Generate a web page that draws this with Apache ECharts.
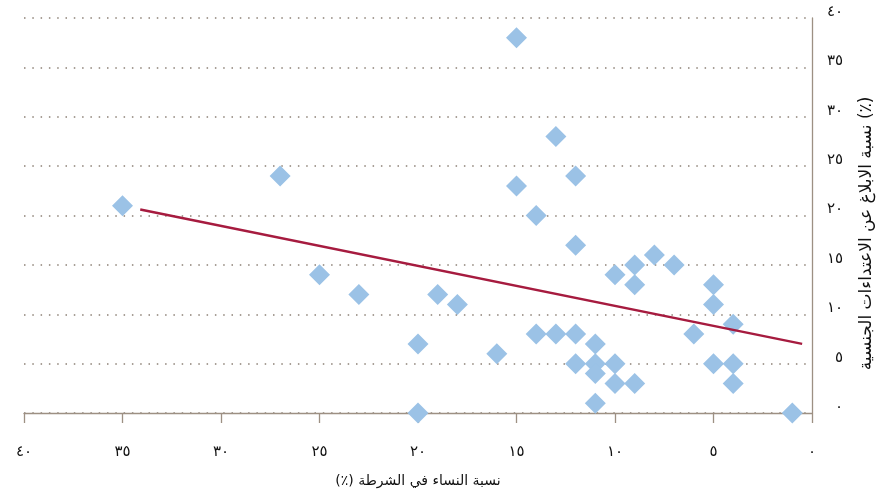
<!DOCTYPE html>
<html>
<head>
<meta charset="utf-8">
<script src="https://cdn.jsdelivr.net/npm/echarts@6/dist/echarts.min.js"></script>
<style>
html,body{margin:0;padding:0;background:#fff;}
#chart{width:876px;height:495px;}
</style>
</head>
<body>
<div id="chart"></div>
<script>
// Women in police (%) vs. reporting of sexual assault (%)
const womenInPolice = [15,13,12,15,14,12,8,9,7,10,9,5,19,18,5,4,6,14,13,12,11,20,16,12,11,10,5,4,11,10,9,4,11,20,1,35,27,25,23];
const reportingRate = [38,28,24,23,20,17,16,15,15,14,13,13,12,11,11,9,8,8,8,8,7,7,6,5,5,5,5,5,4,3,3,3,1,0,0,21,24,14,12];
const trendX = [34.1, 0.5];
const trendY = [20.6, 7.0];
const arabicDigits = ['٠','١','٢','٣','٤','٥','٦','٧','٨','٩'];
const xTitle = 'نسبة النساء في الشرطة (٪)\u200F';
const yTitle = 'نسبة الابلاغ عن الاعتداءات الجنسية (٪)';

function toArabic(v){ return String(v).split('').map(c => arabicDigits[+c] ?? c).join(''); }

const scatterData = womenInPolice.map((x, i) => [x, reportingRate[i]]);
const trendData = trendX.map((x, i) => [x, trendY[i]]);

const axisColor = '#9d9083';
const font = 'DejaVu Sans';

const chart = echarts.init(document.getElementById('chart'));
chart.setOption({
  animation: false,
  grid: { left: 24, right: 64, top: 18, bottom: 82, outerBoundsMode: 'none', containLabel: false },
  xAxis: {
    type: 'value', min: 0, max: 40, interval: 5, inverse: true,
    axisLine: { show: true, lineStyle: { color: axisColor, width: 1.3 } },
    axisTick: { show: true, length: 10, lineStyle: { color: axisColor, width: 1.3 } },
    splitLine: { show: false },
    axisLabel: { margin: 32, color: '#111', fontSize: 15, fontFamily: font, formatter: toArabic },
    name: xTitle, nameLocation: 'middle', nameGap: 61,
    nameTextStyle: { color: '#111', fontSize: 14, fontFamily: font }
  },
  yAxis: {
    type: 'value', position: 'right', min: 0, max: 40, interval: 5,
    axisLine: { show: true, lineStyle: { color: axisColor, width: 1.3 } },
    axisTick: { show: false },
    splitLine: { show: true, lineStyle: { color: '#8c8076', type: [1.5, 6.8], width: 1.5 } },
    axisLabel: { margin: 31, align: 'right', verticalAlign: 'bottom', lineHeight: 12, color: '#111', fontSize: 15, fontFamily: font, formatter: toArabic },
    name: yTitle, nameLocation: 'middle', nameGap: 46, nameRotate: 90,
    nameTextStyle: { color: '#111', fontSize: 17, fontFamily: font, padding: [0, 36, 0, 0] }
  },
  series: [
    {
      type: 'scatter', data: scatterData, symbol: 'diamond', symbolSize: 21,
      itemStyle: { color: '#9bc2e6', opacity: 1 }, z: 2
    },
    {
      type: 'line', data: trendData, symbol: 'none',
      lineStyle: { color: '#a61b3f', width: 2.5 }, z: 3
    }
  ]
});
</script>
</body>
</html>
